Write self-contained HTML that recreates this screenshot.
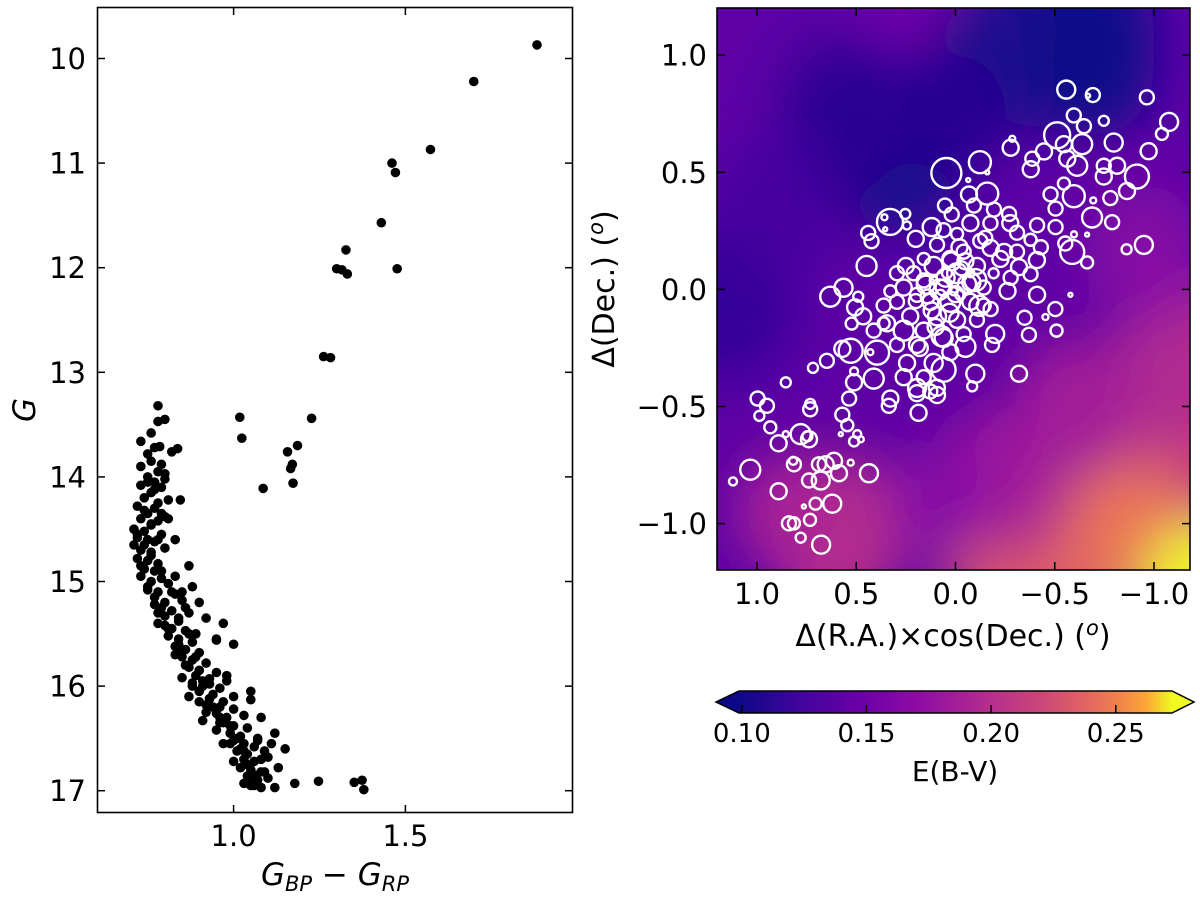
<!DOCTYPE html>
<html><head><meta charset="utf-8">
<style>
html,body{margin:0;padding:0;background:#fff;}
svg{display:block;font-family:"DejaVu Sans","Liberation Sans",sans-serif;}
</style></head>
<body>
<svg id="fig" width="1200" height="903" viewBox="0 0 1200 903" xmlns="http://www.w3.org/2000/svg">
<defs>
  <clipPath id="clipR"><rect x="717" y="8" width="473" height="562"/></clipPath>
  <filter id="blur" x="-50%" y="-50%" width="200%" height="200%"><feGaussianBlur stdDeviation="26"/></filter>
  <linearGradient id="plasma" x1="0" x2="1" y1="0" y2="0">
    <stop offset="0" stop-color="#0d0887"/>
    <stop offset="0.14" stop-color="#41049d"/>
    <stop offset="0.28" stop-color="#6a00a8"/>
    <stop offset="0.42" stop-color="#8f0da4"/>
    <stop offset="0.56" stop-color="#b12a90"/>
    <stop offset="0.70" stop-color="#cc4778"/>
    <stop offset="0.80" stop-color="#e16462"/>
    <stop offset="0.88" stop-color="#f2844b"/>
    <stop offset="0.94" stop-color="#fca636"/>
    <stop offset="1" stop-color="#f0f921"/>
  </linearGradient>
</defs>
<g id="left"></g>
<g id="right"></g>
<g id="cbar"></g>
</svg>
<script>
// ---------- CMD data ----------
const cmdColor = [1.883,1.699,1.573,1.461,1.471,1.43,1.327,1.30,1.315,1.331,1.476,1.262,1.282,1.227,1.018,1.024,1.157,1.186,1.171,1.166,1.173,1.086,1.247,1.351,1.374,1.379,1.178,1.12,
0.78,0.78,0.80,0.76,0.73,0.785,0.837,0.77,0.75,0.82,0.76,0.79,0.73,0.78,0.80,0.75,0.80,0.77,0.73,0.79,0.845,0.76,0.74,0.81,0.78,0.72,0.77,0.75,0.8,0.73,0.78,0.76,0.71,0.74,0.79,0.72,0.75,0.77,0.71,0.73,0.76,0.8,0.72,0.75,0.78,0.74,0.77,0.73,0.79,0.76,0.81,0.75,0.78,0.83,0.77,0.8,0.85,0.79,0.82,0.87,0.8,0.84,0.78,0.82,0.86,0.89,0.81,0.84,0.88,0.95,0.83,0.86,0.9,0.85,0.88,0.92,0.87,0.9,0.95,0.89,0.93,0.88,0.91,0.96,0.9,0.94,1.0,0.93,0.97,1.05,0.92,0.96,1.0,0.95,0.98,1.03,1.08,0.97,1.0,1.04,0.99,1.02,1.07,1.12,1.0,1.03,1.06,1.01,1.04,1.09,1.03,1.06,1.1,1.02,1.05,1.08,1.04,1.07,1.1,1.03,1.06,1.08,1.13,1.15,0.9,0.92,0.97,1.0,0.98,1.05,0.85,0.88,0.83,0.87,0.95,0.98,
0.75,0.77,0.74,0.76,0.72,0.74,0.73,0.76,0.78,0.75,0.77,0.79,0.82,0.84,0.86,0.81,0.84,0.87,0.83,0.86,0.89,0.91,0.85,0.88,0.93,0.87,0.9,0.92,0.94,0.91,0.96,0.95,0.99,0.97,1.01,1.02,1.04,1.06,1.0,1.05,1.08,1.11,1.07,1.05,0.79,0.81,0.83,0.78,0.8,0.85,0.9,0.93,0.96,0.99,1.03,1.09];
const cmdMag = [9.87,10.22,10.87,11.0,11.09,11.57,11.83,12.01,12.02,12.06,12.01,12.85,12.86,13.44,13.43,13.63,13.76,13.7,13.88,13.92,14.06,14.11,16.91,16.92,16.9,16.99,16.93,16.97,
13.32,13.47,13.45,13.58,13.66,13.71,13.73,13.72,13.78,13.76,13.85,13.88,13.9,13.95,13.97,14.0,14.02,14.05,14.08,14.1,14.22,14.15,14.2,14.22,14.25,14.28,14.3,14.35,14.38,14.4,14.42,14.46,14.5,14.52,14.55,14.58,14.6,14.62,14.65,14.7,14.72,14.68,14.78,14.8,14.83,14.88,14.9,14.95,14.97,15.0,15.02,15.05,15.1,15.12,15.15,15.2,15.18,15.25,15.28,15.3,15.33,15.38,15.4,15.45,15.47,15.5,15.52,15.55,15.58,15.56,15.62,15.65,15.68,15.72,15.75,15.78,15.82,15.85,15.87,15.9,15.93,15.97,16.0,16.02,16.05,16.08,16.1,16.12,16.15,16.13,16.18,16.2,16.22,16.26,16.3,16.28,16.3,16.35,16.38,16.4,16.45,16.48,16.5,16.45,16.52,16.55,16.58,16.62,16.65,16.62,16.7,16.72,16.68,16.78,16.8,16.82,16.86,16.9,16.88,16.93,16.95,16.97,16.78,16.6,15.2,15.35,15.4,15.6,15.9,16.05,15.1,15.05,14.95,14.85,15.55,15.95,
14.05,14.12,14.32,14.45,14.55,14.65,14.85,14.75,14.6,15.08,15.22,14.9,15.1,15.35,15.25,15.45,15.6,15.5,15.7,15.8,15.72,15.95,15.92,16.0,15.98,16.1,16.15,16.25,16.2,16.33,16.3,16.42,16.38,16.55,16.5,16.6,16.75,16.85,16.72,16.95,16.7,16.55,16.52,16.92,14.35,14.4,14.6,15.3,15.42,15.65,15.85,16.12,16.35,16.55,16.62,16.82];
const cmdXTicks = [1.0,1.5];
const cmdYTicks = [10,11,12,13,14,15,16,17];

// ---------- Map data ----------
const raOff = [-0.558,-0.692,-0.668,-0.964,-1.076,-1.04,-0.973,-0.797,-0.596,-0.647,-0.747,-0.512,-0.546,-0.638,-0.446,-0.387,-0.563,-0.613,-0.379,-0.278,-0.286,-0.123,0.046,-0.747,-0.814,-0.747,-0.914,-0.864,-0.78,-0.546,-0.596,-0.479,-0.504,-0.688,-0.789,-0.949,-0.862,-0.588,-0.663,-0.663,-0.579,-0.411,-0.503,-0.453,-0.509,-0.348,-0.37,-0.32,-0.2,-0.184,-0.1,-0.084,-0.05,0.194,0.186,0.094,0.06,0.127,0.328,0.336,0.412,0.395,0.511,0.511,0.536,0.57,0.545,0.495,0.511,0.477,0.578,0.436,0.528,0.612,0.654,0.688,0.587,0.679,0.738,0.621,0.705,0.733,0.764,0.839,0.814,0.78,0.677,0.891,1.034,1.121,0.814,0.818,0.891,0.933,0.78,0.738,0.746,0.855,0.988,0.95,0.997,0.855,0.732,0.732,0.718,0.648,0.564,0.631,0.528,0.57,0.49,0.506,0.523,0.465,0.448,0.44,0.423,0.33,0.358,0.354,0.253,0.245,0.2,0.12,0.053,0.019,-0.068,-0.064,-0.16,-0.16,-0.194,-0.27,-0.093,-0.411,-0.31,-0.378,-0.43,-0.41,-0.32,-0.278,-0.378,-0.245,-0.177,-0.262,-0.177,-0.553,-0.597,-0.504,-0.694,
0.026,0.11,-0.008,0.06,0.16,-0.058,0.026,0.127,-0.075,0.194,0.093,-0.008,0.261,0.228,0.295,-0.108,-0.041,0.093,0.16,-0.142,0.043,0.009,0.076,-0.024,0.11,-0.075,0.211,0.295,0.328,0.362,0.345,0.261,0.16,0.06,-0.041,0.194,0.295,0.244,0.11,0.026,0.16,0.261,0.194,0.093,-0.108,-0.142,-0.125,-0.008,0.06,-0.075,-0.176,-0.276,-0.226,-0.31,-0.192,0.412,0.429,0.362,
0.05,0.0,0.08,-0.03,0.12,0.15,-0.1,-0.05,0.03,0.1,0.2,0.07,-0.02,-0.08,0.14,0.18,0.02,-0.12,0.25,-0.15];
const decOff = [0.853,0.83,0.827,0.82,0.715,0.664,0.59,0.627,0.743,0.697,0.72,0.658,0.62,0.62,0.589,0.558,0.558,0.528,0.513,0.605,0.643,0.543,0.497,0.528,0.528,0.482,0.482,0.42,0.39,0.452,0.398,0.406,0.345,0.307,0.287,0.19,0.171,0.16,0.115,0.234,-0.023,-0.023,-0.084,-0.118,-0.176,-0.121,-0.194,-0.36,-0.19,-0.237,-0.36,-0.414,-0.245,-0.443,-0.527,-0.42,-0.343,-0.436,-0.466,-0.497,-0.381,-0.27,-0.397,-0.35,-0.466,-0.535,-0.58,-0.618,-0.649,-0.64,-0.618,-0.785,-0.74,-0.732,-0.747,-0.747,-0.785,-0.816,-0.816,-0.915,-0.915,-0.984,-0.927,-0.999,-0.999,-1.06,-1.09,-0.862,-0.77,-0.82,-0.747,-0.732,-0.657,-0.589,-0.618,-0.64,-0.627,-0.618,-0.54,-0.497,-0.466,-0.397,-0.512,-0.489,-0.335,-0.305,0.007,-0.031,-0.262,-0.254,-0.031,-0.077,-0.146,-0.115,0.10,0.241,0.206,0.288,0.308,0.257,0.322,0.273,0.216,0.266,0.358,0.32,0.405,0.467,0.409,0.5,0.341,0.322,0.358,0.274,0.242,0.212,0.18,0.125,0.095,0.05,0.065,0.16,0.177,-0.007,-0.084,0.196,0.235,0.266,0.38,
0.13,0.1,0.069,0.008,0.038,0.023,-0.053,-0.053,-0.053,-0.023,-0.115,-0.13,0.008,-0.115,-0.053,0.1,0.161,0.191,0.13,0.008,0.069,-0.008,-0.023,-0.023,0.038,0.069,0.069,0.069,-0.008,-0.069,-0.145,-0.176,-0.176,-0.207,-0.191,-0.237,-0.237,-0.314,-0.314,-0.268,-0.375,-0.375,-0.421,-0.451,-0.13,-0.069,0.207,0.237,0.253,0.283,0.283,0.283,0.13,0.161,0.069,-0.176,-0.268,-0.145,
0.05,-0.02,0.0,0.09,-0.09,0.02,0.04,0.12,-0.1,-0.16,-0.05,-0.2,0.18,0.03,-0.03,-0.25,0.12,-0.07,0.1,0.22];
const markSize = [9,7,2,7,9,6,8,9,7,7,5,13,8,10,8,7,8,10,8,8,3,11,15,7,8,8,12,8,7,6,11,7,7,10,7,9,5,12,6,2,2,8,7,3,6,7,7,8,9,7,9,5,10,8,8,8,12,7,8,7,10,12,8,4,7,7,6,4,5,3,2,9,3,8,8,7,8,9,7,9,6,6,2,7,6,5,9,8,10,4,7,4,8,6,10,8,5,3,5,7,7,5,7,5,5,7,9,10,12,8,5,8,6,8,10,7,7,13,3,2,5,4,8,9,7,7,8,2,11,2,7,7,7,7,7,6,7,8,8,7,7,8,8,8,7,7,3,7,3,
8,9,10,8,7,9,10,8,8,7,9,8,8,8,7,8,7,7,6,7,5,4,5,5,4,4,7,7,6,7,8,10,8,9,7,8,7,8,9,8,7,8,9,8,7,7,7,6,7,8,7,8,8,7,5,7,3,6,
9,8,10,7,8,9,11,8,9,8,7,10,8,9,7,8,9,10,8,7];
const mapXTicks = [1.0,0.5,0.0,-0.5,-1.0];
const mapYTicks = [1.0,0.5,0.0,-0.5,-1.0];
// background extinction blobs
const bgRa  = [0.3,0.55,-0.6,-0.2,1.15,0.9,0.25,0.0,-0.35,-1.1,-0.55,-0.9,-1.25,-0.3,0.6,0.85,-1.15,-0.6,-0.2,-0.95,-0.7,0.1];
const bgDec = [0.62,0.75,1.1,0.95,-0.05,0.35,1.25,0.75,-1.2,-0.75,-1.1,-1.05,-1.3,-0.85,-1.05,-0.95,-0.3,-0.5,-0.75,0.15,0.95,-0.9];
const bgRad = [0.38,0.32,0.4,0.32,0.35,0.3,0.22,0.25,0.4,0.4,0.35,0.3,0.3,0.3,0.35,0.25,0.35,0.3,0.25,0.3,0.3,0.25];
const bgVal = [0.103,0.112,0.1,0.105,0.118,0.125,0.15,0.11,0.225,0.215,0.235,0.245,0.275,0.2,0.2,0.19,0.195,0.185,0.18,0.165,0.1,0.165];
const cbTicks = [0.10,0.15,0.20,0.25];

const NS='http://www.w3.org/2000/svg';
function mk(parent,tag,attrs,text){const e=document.createElementNS(NS,tag);for(const k in attrs)e.setAttribute(k,attrs[k]);if(text!==undefined)e.textContent=text;parent.appendChild(e);return e;}

const pl=[[0,13,8,135],[0.14,65,4,157],[0.28,106,0,168],[0.42,143,13,164],[0.56,177,42,144],[0.70,204,71,120],[0.80,225,100,98],[0.88,242,132,75],[0.94,252,166,54],[1,240,249,33]];
function plasma(t){t=Math.max(0,Math.min(1,t));for(let i=1;i<pl.length;i++){if(t<=pl[i][0]){const a=pl[i-1],b=pl[i],f=(t-a[0])/(b[0]-a[0]);return 'rgb('+[1,2,3].map(j=>Math.round(a[j]+(b[j]-a[j])*f)).join(',')+')';}}return 'rgb(240,249,33)';}
const vmin=0.0988, vmax=0.2725;
function cnorm(v){return (v-vmin)/(vmax-vmin);}

// ---------- Left panel ----------
const L=document.getElementById('left');
const lx=c=>233.6+(c-1)*343.6, ly=g=>58.5+(g-10)*104.6;
for(let i=0;i<cmdColor.length;i++){
  const d=mk(L,'circle',{cx:lx(cmdColor[i]),cy:ly(cmdMag[i]),r:4.8,fill:'#000'});
  
  
}
const lbox=mk(L,'rect',{x:97.5,y:7.5,width:475,height:805,fill:'none',stroke:'#000','stroke-width':1.6});

cmdXTicks.forEach(t=>{const x=lx(t);
  mk(L,'line',{x1:x,x2:x,y1:812.5,y2:805,stroke:'#000','stroke-width':1.5});
  mk(L,'line',{x1:x,x2:x,y1:7.5,y2:15,stroke:'#000','stroke-width':1.5});
  const tl=mk(L,'text',{x:x,y:846,'font-size':29,'text-anchor':'middle'},t.toFixed(1));
  
});
cmdYTicks.forEach(t=>{const y=ly(t);
  mk(L,'line',{x1:97.5,x2:105,y1:y,y2:y,stroke:'#000','stroke-width':1.5});
  mk(L,'line',{x1:572.5,x2:565,y1:y,y2:y,stroke:'#000','stroke-width':1.5});
  const tl=mk(L,'text',{x:86,y:y+10.5,'font-size':29,'text-anchor':'end'},String(t));
  
});
const yl=mk(L,'text',{x:0,y:0,'font-size':31,'font-style':'italic','text-anchor':'middle',transform:'translate(35,410) rotate(-90)'},'G');

const xl=mk(L,'text',{x:335,y:885,'font-size':31,'font-style':'italic','text-anchor':'middle'});

xl.innerHTML='G<tspan font-size="21" dy="6">BP</tspan><tspan dy="-6" font-style="normal"> − </tspan>G<tspan font-size="21" dy="6">RP</tspan>';

// ---------- Right panel ----------
const R=document.getElementById('right');
const rx=d=>955.5-d*198.5, ry=d=>289.4-d*234.2;
const bg=mk(R,'g',{'clip-path':'url(#clipR)'});

mk(bg,'rect',{x:717,y:8,width:473,height:562,fill:plasma(cnorm(0.14))});
const bgb=mk(bg,'g',{filter:'url(#blur)'});
for(let i=0;i<bgRa.length;i++){
  const e=mk(bgb,'ellipse',{cx:rx(bgRa[i]),cy:ry(bgDec[i]),rx:bgRad[i]*198.5,ry:bgRad[i]*234.2,fill:plasma(cnorm(bgVal[i]))});
  
  
}
const cg=mk(R,'g',{'clip-path':'url(#clipR)'});
for(let i=0;i<raOff.length;i++){
  const c=mk(cg,'circle',{cx:rx(raOff[i]),cy:ry(decOff[i]),r:markSize[i],fill:'none',stroke:'#fff','stroke-width':2.4});
  
  
}
const rbox=mk(R,'rect',{x:717,y:8,width:473,height:562,fill:'none',stroke:'#000','stroke-width':1.6});

mapXTicks.forEach(t=>{const x=rx(t);
  mk(R,'line',{x1:x,x2:x,y1:570,y2:562,stroke:'#000','stroke-width':1.5});
  mk(R,'line',{x1:x,x2:x,y1:8,y2:16,stroke:'#000','stroke-width':1.5});
  const tl=mk(R,'text',{x:x,y:604,'font-size':29,'text-anchor':'middle'},(t<0?'−':'')+Math.abs(t).toFixed(1));
  
});
mapYTicks.forEach(t=>{const y=ry(t);
  mk(R,'line',{x1:717,x2:725,y1:y,y2:y,stroke:'#000','stroke-width':1.5});
  mk(R,'line',{x1:1190,x2:1182,y1:y,y2:y,stroke:'#000','stroke-width':1.5});
  const tl=mk(R,'text',{x:707,y:y+10.5,'font-size':29,'text-anchor':'end'},(t<0?'−':'')+Math.abs(t).toFixed(1));
  
});
const rxl=mk(R,'text',{x:953,y:646,'font-size':30,'text-anchor':'middle'});

rxl.innerHTML='Δ(R.A.)×cos(Dec.) (<tspan font-style="italic" font-size="21" dy="-11">o</tspan><tspan dy="11">)</tspan>';
const ryl=mk(R,'text',{x:0,y:0,'font-size':30,'text-anchor':'middle',transform:'translate(614,289) rotate(-90)'});

ryl.innerHTML='Δ(Dec.) (<tspan font-style="italic" font-size="21" dy="-11">o</tspan><tspan dy="11">)</tspan>';

// ---------- Colorbar ----------
const C=document.getElementById('cbar');
const cx=v=>741.8+(v-0.10)*2493;
const body=mk(C,'rect',{x:739,y:691,width:433,height:22,fill:'url(#plasma)'});

const lt=mk(C,'polygon',{points:'739,691 716,702 739,713',fill:plasma(0)});

const rt=mk(C,'polygon',{points:'1172,691 1194,702 1172,713',fill:plasma(1)});

mk(C,'polygon',{points:'739,691 1172,691 1194,702 1172,713 739,713 716,702',fill:'none',stroke:'#000','stroke-width':1.5});
cbTicks.forEach(t=>{const x=cx(t);
  mk(C,'line',{x1:x,x2:x,y1:713,y2:705,stroke:'#000','stroke-width':1.5});
  const tl=mk(C,'text',{x:x,y:742,'font-size':26,'text-anchor':'middle'},t.toFixed(2));
  
});
const ct=mk(C,'text',{x:955,y:781,'font-size':28,'text-anchor':'middle'},'E(B-V)');

</script>
</body></html>
